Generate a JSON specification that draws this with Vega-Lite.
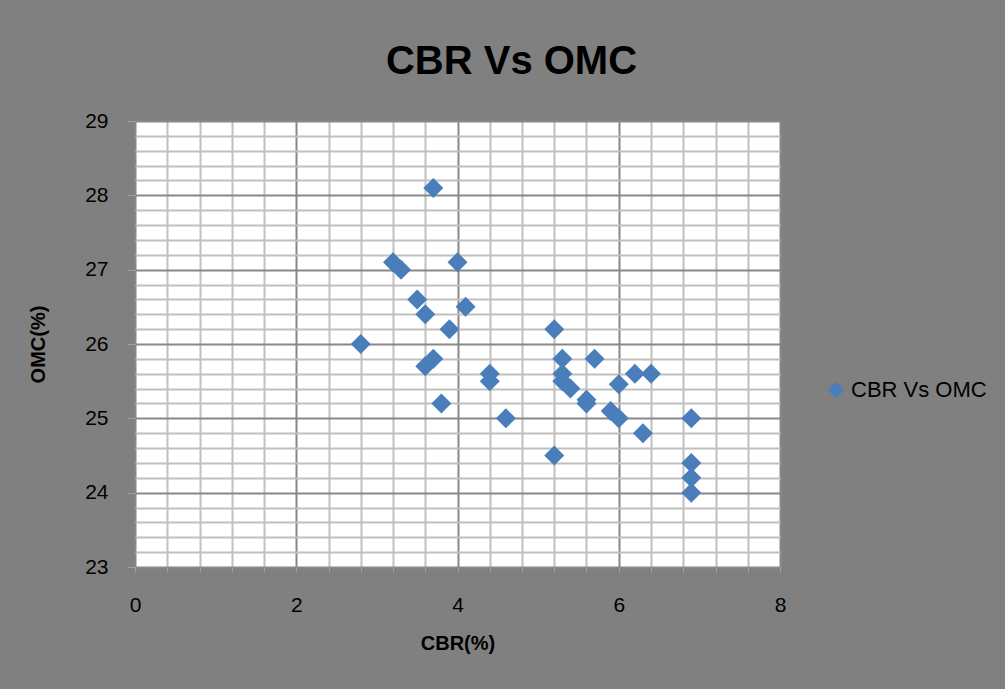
{
  "$schema": "https://vega.github.io/schema/vega-lite/v6.json",
  "width": 645,
  "height": 446,
  "autosize": {"type": "none"},
  "padding": {"left": 135, "top": 121, "right": 225, "bottom": 122},
  "background": "#808080",
  "title": {
    "text": "CBR Vs OMC",
    "font": "Liberation Sans",
    "fontSize": 40,
    "fontWeight": "bold",
    "color": "#000000",
    "anchor": "middle",
    "frame": "group",
    "dx": 54,
    "dy": 38,
    "baseline": "alphabetic",
    "offset": 34
  },
  "data": {
    "values": [
      {"CBR": 2.8, "OMC": 26.0, "series": "CBR Vs OMC"},
      {"CBR": 3.2, "OMC": 27.1, "series": "CBR Vs OMC"},
      {"CBR": 3.3, "OMC": 27.0, "series": "CBR Vs OMC"},
      {"CBR": 3.7, "OMC": 28.1, "series": "CBR Vs OMC"},
      {"CBR": 3.5, "OMC": 26.6, "series": "CBR Vs OMC"},
      {"CBR": 3.6, "OMC": 26.4, "series": "CBR Vs OMC"},
      {"CBR": 3.9, "OMC": 26.2, "series": "CBR Vs OMC"},
      {"CBR": 4.0, "OMC": 27.1, "series": "CBR Vs OMC"},
      {"CBR": 4.1, "OMC": 26.5, "series": "CBR Vs OMC"},
      {"CBR": 3.6, "OMC": 25.7, "series": "CBR Vs OMC"},
      {"CBR": 3.7, "OMC": 25.8, "series": "CBR Vs OMC"},
      {"CBR": 3.8, "OMC": 25.2, "series": "CBR Vs OMC"},
      {"CBR": 4.4, "OMC": 25.6, "series": "CBR Vs OMC"},
      {"CBR": 4.4, "OMC": 25.5, "series": "CBR Vs OMC"},
      {"CBR": 4.6, "OMC": 25.0, "series": "CBR Vs OMC"},
      {"CBR": 5.2, "OMC": 26.2, "series": "CBR Vs OMC"},
      {"CBR": 5.2, "OMC": 24.5, "series": "CBR Vs OMC"},
      {"CBR": 5.3, "OMC": 25.8, "series": "CBR Vs OMC"},
      {"CBR": 5.3, "OMC": 25.6, "series": "CBR Vs OMC"},
      {"CBR": 5.3, "OMC": 25.5, "series": "CBR Vs OMC"},
      {"CBR": 5.4, "OMC": 25.4, "series": "CBR Vs OMC"},
      {"CBR": 5.7, "OMC": 25.8, "series": "CBR Vs OMC"},
      {"CBR": 5.6, "OMC": 25.25, "series": "CBR Vs OMC"},
      {"CBR": 5.6, "OMC": 25.2, "series": "CBR Vs OMC"},
      {"CBR": 5.9, "OMC": 25.1, "series": "CBR Vs OMC"},
      {"CBR": 6.0, "OMC": 25.0, "series": "CBR Vs OMC"},
      {"CBR": 6.0, "OMC": 25.46, "series": "CBR Vs OMC"},
      {"CBR": 6.2, "OMC": 25.6, "series": "CBR Vs OMC"},
      {"CBR": 6.4, "OMC": 25.6, "series": "CBR Vs OMC"},
      {"CBR": 6.3, "OMC": 24.8, "series": "CBR Vs OMC"},
      {"CBR": 6.9, "OMC": 25.0, "series": "CBR Vs OMC"},
      {"CBR": 6.9, "OMC": 24.4, "series": "CBR Vs OMC"},
      {"CBR": 6.9, "OMC": 24.2, "series": "CBR Vs OMC"},
      {"CBR": 6.9, "OMC": 24.0, "series": "CBR Vs OMC"}
    ]
  },
  "mark": {"type": "point", "shape": "diamond", "filled": true, "opacity": 1, "size": 400},
  "encoding": {
    "x": {
      "field": "CBR",
      "type": "quantitative",
      "scale": {"domain": [0, 8], "nice": false, "zero": false},
      "axis": {
        "title": "CBR(%)",
        "values": [0, 0.4, 0.8, 1.2, 1.6, 2, 2.4, 2.8, 3.2, 3.6, 4, 4.4, 4.8, 5.2, 5.6, 6, 6.4, 6.8, 7.2, 7.6, 8],
        "labelExpr": "abs(datum.value/2 - round(datum.value/2)) < 0.001 ? format(datum.value, 'd') : ''",
        "gridColor": {"condition": {"test": "abs(datum.value/2 - round(datum.value/2)) < 0.001", "value": "#888888"}, "value": "#c0c0c0"},
        "gridWidth": 2,
        "tickColor": "#a0a0a0",
        "tickSize": 5,
        "labelPadding": 22,
        "labelFlush": false,
        "titlePadding": 18
      }
    },
    "y": {
      "field": "OMC",
      "type": "quantitative",
      "scale": {"domain": [23, 29], "nice": false, "zero": false},
      "axis": {
        "title": "OMC(%)",
        "values": [23, 23.2, 23.4, 23.6, 23.8, 24, 24.2, 24.4, 24.6, 24.8, 25, 25.2, 25.4, 25.6, 25.8, 26, 26.2, 26.4, 26.6, 26.8, 27, 27.2, 27.4, 27.6, 27.8, 28, 28.2, 28.4, 28.6, 28.8, 29],
        "labelExpr": "abs(datum.value - round(datum.value)) < 0.001 ? format(datum.value, 'd') : ''",
        "gridColor": {"condition": {"test": "abs(datum.value - round(datum.value)) < 0.001", "value": "#888888"}, "value": "#c0c0c0"},
        "gridWidth": 2,
        "tickColor": {"condition": {"test": "abs(datum.value - round(datum.value)) < 0.001", "value": "#a0a0a0"}, "value": "transparent"},
        "tickSize": 8,
        "labelPadding": 19,
        "labelFlush": false,
        "titlePadding": 36
      }
    },
    "color": {
      "field": "series",
      "type": "nominal",
      "scale": {"range": ["#4A7EBB"]},
      "legend": {
        "title": null,
        "orient": "none",
        "legendX": 690,
        "legendY": 258,
        "symbolType": "diamond",
        "symbolSize": 280,
        "labelFontSize": 22,
        "labelFont": "Liberation Sans",
        "labelColor": "#000000",
        "padding": 0,
        "labelOffset": 4
      }
    }
  },
  "config": {
    "view": {"fill": "#ffffff", "stroke": "#888888"},
    "axis": {
      "labelFont": "Liberation Sans",
      "labelFontSize": 21,
      "labelColor": "#000000",
      "titleFont": "Liberation Sans",
      "titleFontSize": 20,
      "titleFontWeight": "bold",
      "titleColor": "#000000",
      "domain": false,
      "gridOpacity": 1
    }
  }
}
